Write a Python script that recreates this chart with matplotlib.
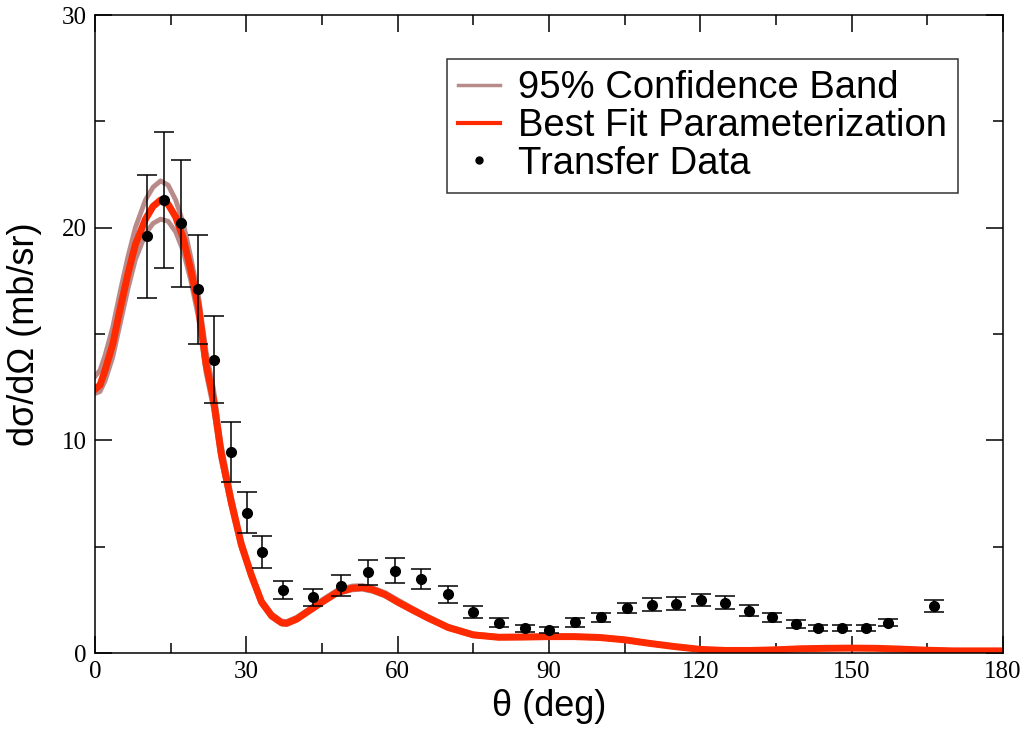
import matplotlib
matplotlib.use("Agg")
import matplotlib.pyplot as plt
from matplotlib.lines import Line2D

# measured transfer data
theta_data = [10.3, 13.7, 17.0, 20.4, 23.6, 27.0, 30.1, 33.1, 37.3, 43.2, 48.8,
              54.1, 59.4, 64.7, 70.0, 75.0, 80.1, 85.2, 90.0, 95.2, 100.3, 105.4,
              110.4, 115.2, 120.1, 124.9, 129.7, 134.2, 139.0, 143.4, 148.0,
              152.8, 157.3, 166.4]
xs_data = [19.6, 21.3, 20.2, 17.1, 13.8, 9.45, 6.6, 4.76, 2.96, 2.62, 3.17,
           3.79, 3.87, 3.46, 2.77, 1.93, 1.43, 1.16, 1.08, 1.44, 1.67, 2.1,
           2.27, 2.32, 2.49, 2.37, 1.99, 1.67, 1.36, 1.19, 1.19, 1.19, 1.43, 2.21]
xs_err = [2.9, 3.2, 3.0, 2.55, 2.05, 1.43, 0.96, 0.75, 0.42, 0.39, 0.5,
          0.57, 0.59, 0.47, 0.4, 0.27, 0.21, 0.15, 0.15, 0.2, 0.2, 0.24,
          0.3, 0.3, 0.3, 0.3, 0.25, 0.2, 0.17, 0.15, 0.15, 0.15, 0.17, 0.27]

# best fit curve and confidence band
theta_fit = [0, 1, 2, 3.5, 5, 6.5, 8, 10, 11.5, 13, 14.5, 16, 17.5, 19, 20.5,
             22, 23.5, 25, 27, 29, 31, 33, 35, 37, 38, 40, 42.5, 45, 48, 51,
             53, 55, 57.5, 60, 63, 66, 70, 75, 80, 85, 90, 95, 100, 105, 110,
             115, 120, 125, 130, 135, 140, 145, 150, 155, 160, 165, 170, 175, 180]
xs_fit = [12.4, 12.6, 13.3, 14.5, 16.2, 17.8, 19.2, 20.4, 21.0, 21.3, 21.1,
          20.5, 19.5, 18.0, 16.3, 13.6, 11.9, 9.4, 7.1, 5.1, 3.65, 2.4, 1.75,
          1.42, 1.40, 1.6, 2.0, 2.4, 2.85, 3.05, 3.08, 2.98, 2.75, 2.4, 2.02,
          1.65, 1.2, 0.85, 0.74, 0.75, 0.77, 0.77, 0.73, 0.62, 0.45, 0.3, 0.17,
          0.12, 0.12, 0.15, 0.2, 0.22, 0.23, 0.22, 0.18, 0.13, 0.1, 0.1, 0.1]
band_hi = [13.0, 13.3, 14.0, 15.3, 17.0, 18.6, 20.0, 21.3, 21.9, 22.2, 22.0,
           21.3, 20.2, 18.6, 16.8, 14.2, 12.4, 9.8, 7.4, 5.3, 3.8, 2.5, 1.85,
           1.5, 1.48, 1.68, 2.08, 2.5, 2.95, 3.15, 3.17, 3.07, 2.84, 2.5, 2.1,
           1.72, 1.26, 0.9, 0.78, 0.79, 0.8, 0.8, 0.76, 0.65, 0.48, 0.32, 0.19,
           0.14, 0.14, 0.17, 0.22, 0.24, 0.25, 0.24, 0.2, 0.15, 0.12, 0.12, 0.12]
band_lo = [12.2, 12.3, 12.8, 13.9, 15.5, 17.1, 18.5, 19.7, 20.2, 20.4, 20.3,
           19.8, 18.9, 17.5, 15.8, 13.2, 11.5, 9.1, 6.9, 4.95, 3.55, 2.32, 1.68,
           1.36, 1.34, 1.54, 1.94, 2.33, 2.78, 2.97, 3.0, 2.9, 2.68, 2.34, 1.96,
           1.6, 1.16, 0.82, 0.71, 0.72, 0.74, 0.74, 0.7, 0.6, 0.43, 0.28, 0.15,
           0.1, 0.1, 0.13, 0.18, 0.2, 0.21, 0.2, 0.16, 0.11, 0.08, 0.08, 0.08]

band_color = "#b98a8a"
fit_color = "#ff2a00"

fig = plt.figure(figsize=(10.24, 7.31), dpi=100)
ax = fig.add_axes([95 / 1024, 1 - 653 / 731, 908 / 1024, 638 / 731])

ax.plot(theta_fit, band_hi, color=band_color, lw=3.5)
ax.plot(theta_fit, band_lo, color=band_color, lw=3.5)
ax.plot(theta_fit, xs_fit, color=fit_color, lw=5)
ax.errorbar(theta_data, xs_data, yerr=xs_err, fmt="o", color="black", ms=7,
            ecolor="black", elinewidth=1.1, capsize=7, capthick=1.1)

ax.set_xlim(0, 180)
ax.set_ylim(0, 30)
ax.set_xticks(range(0, 181, 30))
ax.set_xticks(range(15, 180, 30), minor=True)
ax.set_yticks(range(0, 31, 10))
ax.set_yticks(range(5, 30, 10), minor=True)
ax.tick_params(which="both", direction="in", top=True, right=True, width=1.1)
ax.tick_params(which="major", length=12, labelsize=18, pad=6)
ax.tick_params(which="minor", length=7)
for lab in ax.get_xticklabels() + ax.get_yticklabels():
    lab.set_family("Liberation Serif")
for sp in ax.spines.values():
    sp.set_linewidth(1.1)

ax.set_xlabel("θ (deg)", fontsize=26, family="Liberation Sans", labelpad=4)
ax.set_ylabel("dσ/dΩ (mb/sr)", fontsize=26, family="Liberation Sans", labelpad=14)

handles = [Line2D([], [], color=band_color, lw=2.5),
           Line2D([], [], color=fit_color, lw=3),
           Line2D([], [], ls="none", marker="o", color="black", ms=5)]
labels = ["95% Confidence Band", "Best Fit Parameterization", "Transfer Data"]
leg = ax.legend(handles, labels, loc="upper right",
                bbox_to_anchor=(958 / 1024, 1 - 59 / 731),
                bbox_transform=fig.transFigure, frameon=True, fancybox=False,
                prop={"family": "Liberation Sans", "size": 27.5}, handlelength=1.1,
                handletextpad=0.45, borderpad=0.3, labelspacing=0.04,
                borderaxespad=0)
leg.get_frame().set_edgecolor("black")
leg.get_frame().set_linewidth(1.1)

fig.savefig("out.png", dpi=100)
